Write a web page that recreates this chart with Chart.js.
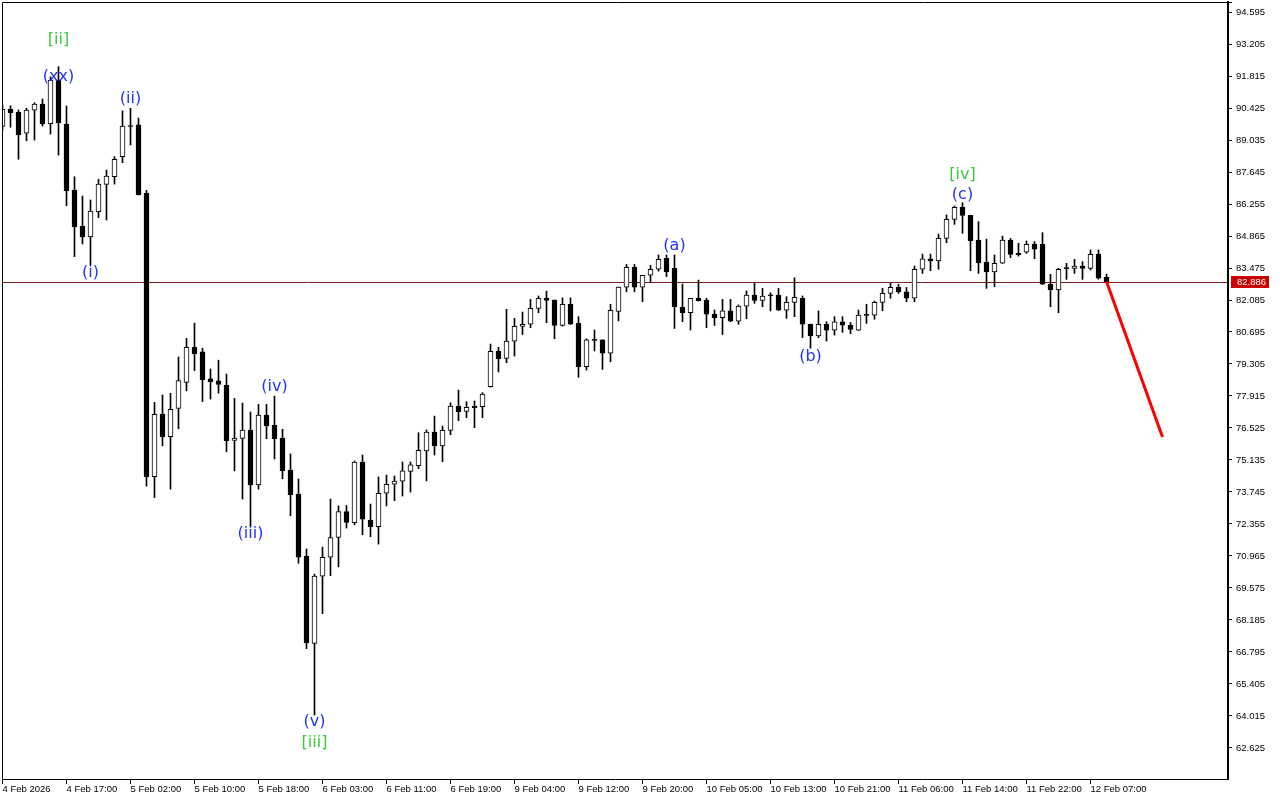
<!DOCTYPE html>
<html><head><meta charset="utf-8">
<script src="https://cdn.jsdelivr.net/npm/chart.js@4.4.1/dist/chart.umd.min.js"></script>
<style>html,body{margin:0;padding:0;background:#fff;overflow:hidden}#wrap{position:relative;width:1280px;height:800px}</style>
</head><body><div id="wrap"><canvas id="c" width="1280" height="800"></canvas></div>
<script>
// Hourly candles, index 0 = 4 Feb 2026 09:00
const openP=[89.62,90.37,90.25,89.33,90.33,90.60,89.74,91.64,89.73,86.86,85.30,84.83,85.92,87.11,87.44,88.31,89.64,89.69,86.73,74.41,77.13,76.15,77.38,78.51,80.03,79.83,78.66,78.57,78.38,75.99,76.07,76.44,74.05,77.09,76.64,76.09,74.70,73.66,70.96,67.17,70.09,70.91,71.77,72.89,72.41,75.05,72.53,72.24,73.69,74.08,74.21,74.64,74.89,75.53,76.35,75.75,76.42,77.48,77.25,77.48,77.45,78.32,79.86,79.55,80.30,80.94,81.03,81.72,82.16,82.08,80.98,81.90,81.07,79.19,80.35,80.35,79.77,81.59,82.64,83.50,82.64,83.16,83.42,83.89,83.46,81.77,81.53,82.16,82.08,81.47,81.32,81.61,81.17,81.82,82.30,82.07,82.29,82.30,81.64,81.98,82.16,81.03,80.52,81.03,80.77,81.14,80.99,80.77,81.43,81.43,81.98,82.37,82.63,82.44,82.16,83.42,83.87,83.78,84.76,85.59,86.11,85.76,84.69,83.73,83.31,83.68,84.69,84.11,84.16,84.50,84.50,82.77,82.52,83.46,83.46,83.56,83.46,84.07,83.07];
const highP=[90.55,90.52,90.34,90.42,90.65,90.82,91.78,92.22,90.51,87.44,86.60,86.43,87.33,87.73,88.31,90.30,90.41,89.99,86.85,77.64,77.96,78.03,79.61,80.42,81.08,79.99,79.09,79.47,78.87,77.81,77.61,77.22,77.55,77.55,77.91,76.47,75.40,74.31,71.27,70.18,71.35,73.44,73.14,73.16,75.09,75.35,73.22,74.40,74.48,74.44,75.05,75.05,76.32,76.44,77.04,76.61,77.62,78.17,77.67,77.70,78.06,80.17,80.03,81.68,81.29,81.56,82.11,82.26,82.47,82.09,82.18,82.18,81.36,80.40,80.78,80.36,81.90,82.65,83.63,83.63,83.16,83.59,84.04,84.04,84.04,82.78,82.16,82.95,82.16,81.65,82.11,82.11,81.87,82.48,82.84,82.59,82.40,82.59,82.23,83.05,82.26,81.04,81.61,81.14,81.36,81.36,81.11,81.65,81.90,82.04,82.59,82.81,82.77,82.63,83.56,84.08,84.08,84.95,85.78,86.17,86.31,85.77,85.49,84.73,84.04,84.86,84.76,84.55,84.65,84.62,85.01,83.20,83.46,83.68,83.85,83.75,84.26,84.26,83.21];
const lowP=[89.47,89.59,88.20,89.00,89.03,89.64,89.29,88.38,86.18,83.97,84.52,83.61,85.66,85.56,87.12,88.05,88.82,86.64,74.00,73.50,75.75,73.87,76.49,78.14,79.02,77.67,77.78,78.04,75.49,74.66,73.44,72.27,73.87,76.06,75.18,74.32,72.71,70.65,66.94,64.06,68.46,70.11,70.49,72.18,72.32,71.89,71.80,71.48,73.14,73.37,73.57,73.74,74.76,74.23,75.35,75.06,76.23,76.84,76.97,76.54,76.97,78.30,78.96,79.36,79.65,80.59,80.88,81.53,81.10,80.40,80.95,81.02,78.73,79.04,79.87,79.07,79.40,81.18,82.44,82.44,82.01,82.84,83.34,83.10,80.85,81.14,80.78,82.04,80.88,80.98,80.59,81.14,81.03,81.27,81.94,81.79,81.61,81.63,81.29,81.36,80.45,79.99,80.45,80.30,80.56,80.68,80.62,80.76,81.07,81.25,81.62,82.16,82.37,82.01,82.01,83.24,83.36,83.42,84.57,85.37,84.98,83.36,83.24,82.59,82.66,83.67,83.92,83.99,84.11,83.88,82.76,81.79,81.53,82.98,83.24,82.98,83.39,82.99,82.88];
const closeP=[90.37,90.22,89.26,90.34,90.59,89.73,91.64,89.79,86.83,85.27,84.83,85.95,87.12,87.47,88.20,89.64,89.62,86.66,74.41,77.12,76.15,77.34,78.58,80.03,79.75,78.62,78.54,78.42,75.97,76.09,76.44,74.05,77.09,76.61,76.06,74.67,73.63,70.91,67.20,70.09,70.91,71.77,72.89,72.42,75.05,72.56,72.24,73.69,74.08,74.22,74.66,74.92,75.55,76.35,75.75,76.42,77.48,77.23,77.42,77.41,78.00,79.86,79.54,80.30,80.94,81.03,81.72,82.16,82.07,80.98,81.90,81.03,79.19,80.35,80.33,79.77,81.64,82.65,83.50,82.64,83.16,83.42,83.85,83.31,81.79,81.53,82.16,82.05,81.47,81.32,81.61,81.17,81.82,82.30,82.07,82.26,82.27,81.64,81.98,82.20,81.03,80.52,81.03,80.77,81.14,80.99,80.81,81.43,81.42,81.98,82.37,82.63,82.44,82.16,83.42,83.87,83.78,84.76,85.59,86.11,85.76,84.66,83.70,83.31,83.68,84.69,84.07,84.04,84.50,84.29,82.77,82.52,83.42,83.45,83.56,83.46,84.07,83.03,82.886];

const xTickIndex=[0,8,16,24,32,40,48,56,64,72,80,88,96,104,112,120,128,136];
const xTickLabels=["4 Feb 2026","4 Feb 17:00","5 Feb 02:00","5 Feb 10:00","5 Feb 18:00","6 Feb 03:00","6 Feb 11:00","6 Feb 19:00","9 Feb 04:00","9 Feb 12:00","9 Feb 20:00","10 Feb 05:00","10 Feb 13:00","10 Feb 21:00","11 Feb 06:00","11 Feb 14:00","11 Feb 22:00","12 Feb 07:00"];
const yTickValues=[62.625,64.015,65.405,66.795,68.185,69.575,70.965,72.355,73.745,75.135,76.525,77.915,79.305,80.695,82.085,83.475,84.865,86.255,87.645,89.035,90.425,91.815,93.205,94.595];

const lastPrice=82.886;
const forecastIndex=[138,145];
const forecastPrice=[82.886,76.13];

const waveText=["[ii]","(xx)","(i)","(ii)","(iii)","(iv)","(v)","[iii]","(a)","(b)","(c)","[iv]"];
const waveIndex=[7,7,11,16,31,34,39,39,84,101,120,120];
const wavePrice=[93.38,91.77,83.26,90.82,71.92,78.30,63.75,62.87,84.43,79.61,86.65,87.51];
const waveGreen=[true,false,false,false,false,false,false,true,false,false,false,true];

const idx=openP.map((_,i)=>i);
const AX_FONT={family:"'Liberation Sans', Arial, sans-serif",size:9.5};

const overlay={
  id:'overlay',
  beforeDatasetsDraw(chart){
    const {ctx,chartArea:a,scales:{y}}=chart;
    const py=Math.round(y.getPixelForValue(lastPrice))+0.5;
    ctx.save();
    ctx.strokeStyle='#7d2020';ctx.lineWidth=1;
    ctx.beginPath();ctx.moveTo(a.left,py);ctx.lineTo(a.right,py);ctx.stroke();
    ctx.restore();
  },
  afterDatasetsDraw(chart){
    const {ctx,scales:{x,y}}=chart;
    ctx.save();
    ctx.font="16px 'DejaVu Sans', sans-serif";
    ctx.textAlign='center';ctx.textBaseline='middle';
    waveText.forEach((t,i)=>{
      ctx.fillStyle=waveGreen[i]?'#3cc83c':'#2233ff';
      ctx.fillText(t,x.getPixelForValue(waveIndex[i]),y.getPixelForValue(wavePrice[i]));
    });
    ctx.restore();
  },
  afterDraw(chart){
    const {ctx,chartArea:a,scales:{y}}=chart;
    ctx.save();
    ctx.strokeStyle='#000';ctx.lineWidth=1;
    ctx.beginPath();
    ctx.moveTo(a.left+0.5,a.bottom);ctx.lineTo(a.left+0.5,a.top+0.5);ctx.lineTo(a.right+4,a.top+0.5);
    ctx.stroke();
    const py=Math.round(y.getPixelForValue(lastPrice));
    ctx.fillStyle='#cc0000';
    ctx.fillRect(a.right+3,py-6,38,12);
    ctx.fillStyle='#ffffff';
    ctx.font="9.5px 'Liberation Sans', Arial, sans-serif";
    ctx.textAlign='left';ctx.textBaseline='middle';
    ctx.fillText(lastPrice.toFixed(3),a.right+9,py+0.5);
    ctx.restore();
  }
};

new Chart(document.getElementById('c'),{
  type:'bar',
  data:{datasets:[
    {type:'line',data:forecastIndex.map((k,i)=>({x:k,y:forecastPrice[i]})),borderColor:'#ff0000',borderWidth:3,pointRadius:0,order:0},
    {data:idx.map(k=>({x:k,y:[openP[k],closeP[k]]})),
     backgroundColor:idx.map(k=>closeP[k]>=openP[k]?'#ffffff':'#000000'),
     borderColor:'#000000',borderWidth:1,borderSkipped:false,barThickness:5,minBarLength:1,grouped:false,order:1},
    {data:idx.map(k=>({x:k,y:[lowP[k],highP[k]]})),
     backgroundColor:'#000000',borderWidth:0,barThickness:1,grouped:false,order:2}
  ]},
  options:{
    responsive:false,animation:false,devicePixelRatio:1,
    layout:{padding:{left:2,top:2,right:0,bottom:0}},
    plugins:{legend:{display:false},tooltip:{enabled:false}},
    scales:{
      x:{type:'linear',position:'bottom',min:-0.0625,max:153.1875,offset:false,
        grid:{display:true,drawOnChartArea:false,drawTicks:true,tickLength:5,color:'#000',lineWidth:1,offset:false},
        border:{display:true,color:'#000',width:1},
        ticks:{autoSkip:false,maxRotation:0,minRotation:0,align:'start',padding:0,color:'#000',font:AX_FONT,
          callback:(v)=>{const i=xTickIndex.indexOf(v);return i>=0?xTickLabels[i]:'';}},
        afterBuildTicks:(s)=>{s.ticks=xTickIndex.map(v=>({value:v}));},
        afterFit:(s)=>{s.height=21;s.paddingLeft=0;s.paddingRight=0;}
      },
      y:{type:'linear',position:'right',min:61.2784,max:95.0294,
        grid:{display:true,drawOnChartArea:false,drawTicks:true,tickLength:4,color:'#000'},
        border:{display:true,color:'#000',width:2},
        ticks:{color:'#000',font:AX_FONT,padding:4,callback:(v)=>Number(v).toFixed(3)},
        afterBuildTicks:(s)=>{s.ticks=yTickValues.map(v=>({value:v}));},
        afterFit:(s)=>{s.width=52;s.paddingTop=0;s.paddingBottom=0;}
      }
    }
  },
  plugins:[overlay]
});
</script></body></html>
